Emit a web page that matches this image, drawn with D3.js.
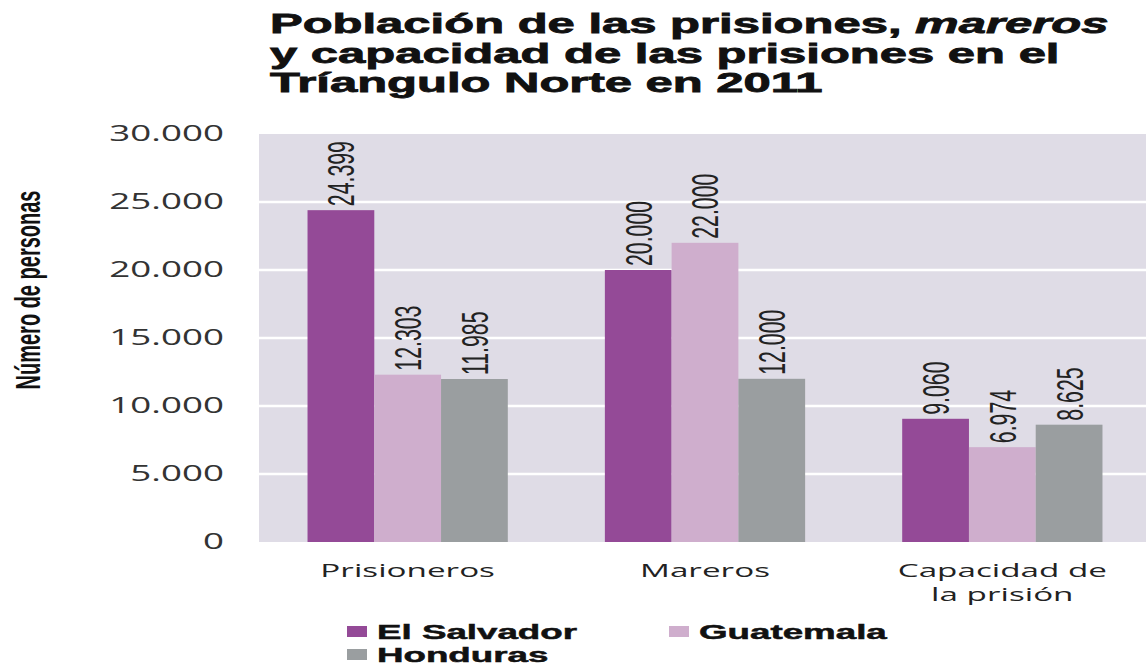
<!DOCTYPE html>
<html>
<head>
<meta charset="utf-8">
<script src="https://cdn.jsdelivr.net/npm/d3@7"></script>
<style>
  body { margin: 0; background: #fff; }
  svg { display: block; }
</style>
</head>
<body>
<svg id="chart"></svg>
<script>
"use strict";

// Data
var categories = ["Prisioneros", "Mareros", "Capacidad de la prisión"];
var categoryLines = [["Prisioneros"], ["Mareros"], ["Capacidad de", "la prisión"]];
var series = ["El Salvador", "Guatemala", "Honduras"];
var elSalvador = [24399, 20000, 9060];
var guatemala = [12303, 22000, 6974];
var honduras = [11985, 12000, 8625];
var yTicks = [0, 5000, 10000, 15000, 20000, 25000, 30000];
var colours = ["#944a97", "#cfaecd", "#9a9ea0"];

// the original picture is stretched sideways, so draw narrow and let the viewBox widen it
var S = 1.75;
function X(v) { return v / S; }

var fmt = d3.formatLocale({ decimal: ",", thousands: ".", grouping: [3], currency: ["", ""] }).format(",d");

var rows = categories.map(function(c, i) {
  return { cat: c, lines: categoryLines[i], values: [elSalvador[i], guatemala[i], honduras[i]] };
});

var svg = d3.select("#chart")
  .attr("width", 1146)
  .attr("height", 667)
  .attr("viewBox", [0, 0, X(1146), 667].join(" "))
  .attr("preserveAspectRatio", "none");

var x0 = d3.scaleBand().domain(categories).range([X(259), X(1151)]);
var x1 = d3.scaleBand().domain(series).range([0, x0.bandwidth()]).paddingOuter(0.727);
var y = d3.scaleLinear().domain([0, 30000]).range([542, 134]);

// Title
var title = svg.append("text")
  .attr("x", X(270))
  .attr("font-family", "'Liberation Sans', Arial, sans-serif")
  .attr("font-weight", "bold")
  .attr("font-size", 28)
  .attr("fill", "#111")
  .attr("stroke", "#111")
  .attr("stroke-width", 0.8);
var t1 = title.append("tspan").attr("x", X(270)).attr("y", 33);
t1.append("tspan").text("Población de las prisiones, ");
t1.append("tspan").attr("font-style", "italic").text("mareros");
title.append("tspan").attr("x", X(270)).attr("y", 63).text("y capacidad de las prisiones en el");
title.append("tspan").attr("x", X(270)).attr("y", 92).text("Tríangulo Norte en 2011");

// Plot background and grid
svg.append("rect")
  .attr("x", X(259))
  .attr("y", y(30000))
  .attr("width", X(1146 - 259))
  .attr("height", y(0) - y(30000))
  .attr("fill", "#dfdce6");

svg.append("g")
  .selectAll("line")
  .data(yTicks.filter(function(d) { return d > 0 && d < 30000; }))
  .join("line")
  .attr("x1", X(259))
  .attr("x2", X(1146))
  .attr("y1", function(d) { return y(d); })
  .attr("y2", function(d) { return y(d); })
  .attr("stroke", "#fff")
  .attr("stroke-width", 2.5);

// Y axis
var yAxis = svg.append("g")
  .attr("transform", "translate(" + X(224) + ",0)")
  .call(d3.axisLeft(y).tickValues(yTicks).tickSize(0).tickPadding(0).tickFormat(fmt));
yAxis.select(".domain").remove();
yAxis.selectAll("text")
  .attr("font-family", "'Open Sans', sans-serif")
  .attr("font-size", 21)
  .attr("fill", "#333");

svg.append("text")
  .attr("transform", "translate(" + X(27) + ",290) rotate(-90)")
  .attr("text-anchor", "middle")
  .attr("dy", "0.36em")
  .attr("font-family", "'Liberation Sans', Arial, sans-serif")
  .attr("font-weight", "bold")
  .attr("font-size", 20)
  .attr("fill", "#111")
  .text("Número de personas");

// Bars
var groups = svg.append("g")
  .selectAll("g")
  .data(rows)
  .join("g")
  .attr("transform", function(d) { return "translate(" + x0(d.cat) + ",0)"; });

groups.selectAll("rect")
  .data(function(d) { return d.values.map(function(v, j) { return { key: series[j], value: v, j: j }; }); })
  .join("rect")
  .attr("x", function(d) { return x1(d.key); })
  .attr("y", function(d) { return y(d.value); })
  .attr("width", x1.bandwidth())
  .attr("height", function(d) { return y(0) - y(d.value); })
  .attr("fill", function(d) { return colours[d.j]; });

groups.selectAll("text.val")
  .data(function(d) { return d.values.map(function(v, j) { return { key: series[j], value: v }; }); })
  .join("text")
  .attr("class", "val")
  .attr("transform", function(d) {
    return "translate(" + (x1(d.key) + x1.bandwidth() / 2) + "," + (y(d.value) - 4) + ") rotate(-90)";
  })
  .attr("dy", "0.36em")
  .attr("font-family", "'Liberation Sans', Arial, sans-serif")
  .attr("font-size", 21.3)
  .attr("fill", "#222")
  .text(function(d) { return fmt(d.value); });

// Category labels
var catLabels = svg.append("g")
  .selectAll("text")
  .data(rows)
  .join("text")
  .attr("text-anchor", "middle")
  .attr("font-family", "'Open Sans', sans-serif")
  .attr("font-size", 19)
  .attr("fill", "#222");
catLabels.selectAll("tspan")
  .data(function(d) { return d.lines.map(function(l) { return { line: l, cx: x0(d.cat) + x0.bandwidth() / 2 }; }); })
  .join("tspan")
  .attr("x", function(d) { return d.cx; })
  .attr("y", function(d, i) { return 577 + i * 24; })
  .text(function(d) { return d.line; });

// Legend
var legendX = [347, 669];
var legend = svg.append("g")
  .selectAll("g")
  .data(series)
  .join("g")
  .attr("transform", function(d, i) {
    return "translate(" + X(legendX[i % 2]) + "," + (626 + Math.floor(i / 2) * 23) + ")";
  });
legend.append("rect")
  .attr("width", X(20))
  .attr("height", 11)
  .attr("fill", function(d, i) { return colours[i]; });
legend.append("text")
  .attr("x", X(30))
  .attr("y", 13)
  .attr("font-family", "'Liberation Sans', Arial, sans-serif")
  .attr("font-weight", "bold")
  .attr("font-size", 21)
  .attr("fill", "#111")
  .attr("stroke", "#111")
  .attr("stroke-width", 0.5)
  .text(function(d) { return d; });
</script>
</body>
</html>
